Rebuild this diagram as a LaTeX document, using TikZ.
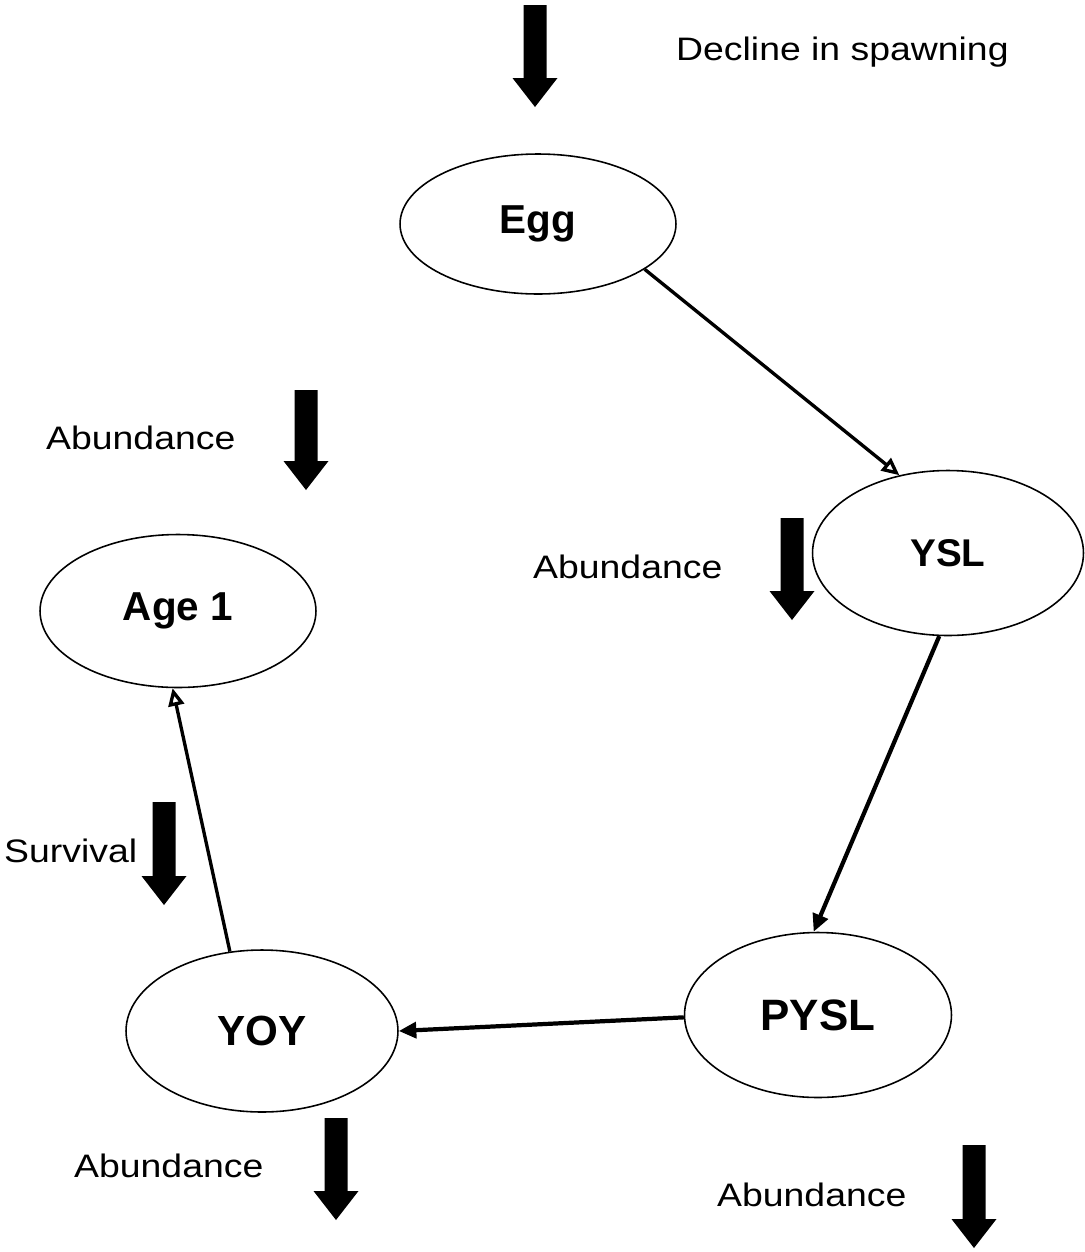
\documentclass[tikz,border=0pt]{standalone}
\usepackage{fontspec}
\setmainfont{Liberation Sans}
\newfontfamily\lblfont{Liberation Sans}[FakeStretch=1.15]
\usetikzlibrary{arrows.meta,shapes.geometric}

% block arrow pointing down: x, top y, tip y
\newcommand{\downblock}[3]{%
  \fill (#1-11.5,#2) -- (#1+11.5,#2) -- (#1+11.5,#3-29) -- (#1+22.5,#3-29)
    -- (#1,#3) -- (#1-22.5,#3-29) -- (#1-11.5,#3-29) -- cycle;}

\begin{document}
\begin{tikzpicture}[x=0.02cm,y=-0.02cm,
  stage/.style={draw,ellipse,line width=0.9pt,inner sep=0pt,font=\bfseries},
  note/.style={anchor=west,font=\lblfont\fontsize{18.5}{22}\selectfont},
  flow/.style={line width=2.4pt,-{Triangle[length=10pt,width=9pt]}},
  thin flow/.style={line width=1.9pt,-{Triangle[open,length=10pt,width=9pt]}}]
\path[use as bounding box] (0,0) rectangle (1085,1252);

% life stages
\node[stage,minimum width=5.52cm,minimum height=2.8cm,font=\bfseries\fontsize{23}{26}\selectfont] (egg) at (538,224) {Egg};
\node[stage,minimum width=5.42cm,minimum height=3.3cm,font=\bfseries\fontsize{22}{26}\selectfont] (ysl) at (948,553) {YSL};
\node[stage,minimum width=5.34cm,minimum height=3.3cm,font=\bfseries\fontsize{25}{28}\selectfont] (pysl) at (818,1015) {PYSL};
\node[stage,minimum width=5.44cm,minimum height=3.24cm,font=\bfseries\fontsize{24}{28}\selectfont] (yoy) at (262,1031) {YOY};
\node[stage,minimum width=5.52cm,minimum height=3.06cm,font=\bfseries\fontsize{23}{26}\selectfont] (age) at (178,611) {Age 1};

% transitions
\draw[thin flow] (egg.-23) -- (ysl.122);
\draw[flow] (ysl.-96) -- (pysl.93);
\draw[flow] (pysl.181) -- (yoy.0);
\draw[thin flow] (yoy.112) -- (age.-94);

% labels
\node[note] (decline) at (670,52) {Decline in spawning};
\node[note] (abAge) at (40,438) {Abundance};
\node[note] (abYsl) at (527,567) {Abundance};
\node[note] (surv) at (-2,851) {Survival};
\node[note] (abYoy) at (68,1166) {Abundance};
\node[note] (abPysl) at (711,1195) {Abundance};

% block arrows
\downblock{535}{5}{107}
\downblock{306}{390}{490}
\downblock{792}{518}{620}
\downblock{164}{802}{905}
\downblock{336}{1118}{1220}
\downblock{974}{1145}{1248}
\end{tikzpicture}
\end{document}
